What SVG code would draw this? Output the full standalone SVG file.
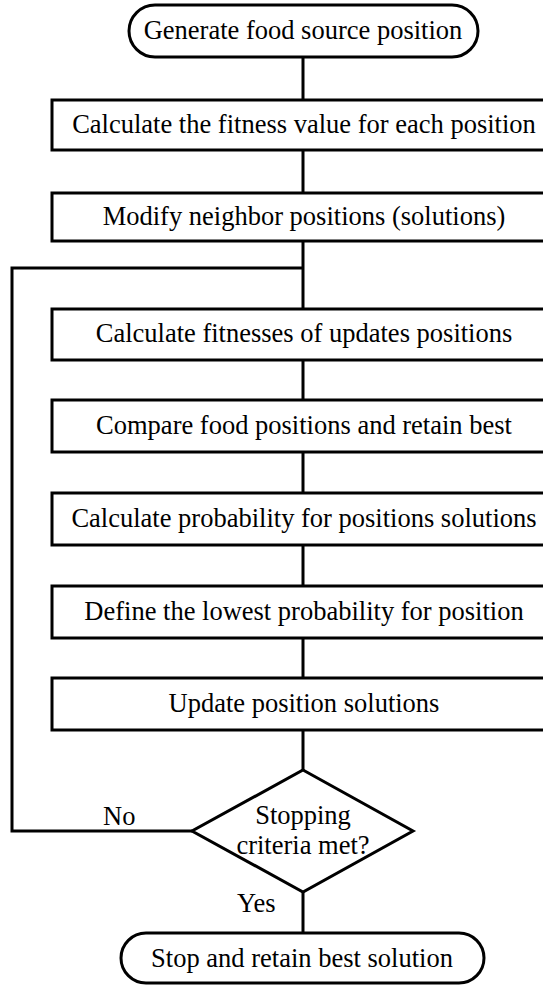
<svg xmlns="http://www.w3.org/2000/svg" width="543" height="985" viewBox="0 0 543 985">
<style>
.s{fill:#fff;stroke:#000;stroke-width:3}
.c{fill:none;stroke:#000;stroke-width:3}
.m{text-anchor:middle}
</style>
<rect width="543" height="985" fill="#fff"/>
<g id="connectors">
<path class="c" d="M303 57V100M303 150V193M303 241V309M303 360V400M303 452V493M303 545V586M303 638V678M303 730V770M303 892V933"/>
<path class="c" d="M192 831H12V268H303"/>
</g>
<g font-family="'Liberation Serif', 'Times New Roman', serif" font-size="26.5" fill="#000">
<g id="start"><rect class="s" x="129" y="5" width="349" height="52" rx="26"/><text class="m" x="303" y="39">Generate food source position</text></g>
<g id="n1"><rect class="s" x="52" y="100" width="500" height="50"/><text class="m" x="304" y="133">Calculate the fitness value for each position</text></g>
<g id="n2"><rect class="s" x="52" y="193" width="500" height="48"/><text class="m" x="304" y="225">Modify neighbor positions (solutions)</text></g>
<g id="n3"><rect class="s" x="52" y="309" width="500" height="51"/><text class="m" x="304" y="342">Calculate fitnesses of updates positions</text></g>
<g id="n4"><rect class="s" x="52" y="400" width="500" height="52"/><text class="m" x="304" y="434">Compare food positions and retain best</text></g>
<g id="n5"><rect class="s" x="52" y="493" width="500" height="52"/><text class="m" x="304" y="527">Calculate probability for positions solutions</text></g>
<g id="n6"><rect class="s" x="52" y="586" width="500" height="52"/><text class="m" x="304" y="620">Define the lowest probability for position</text></g>
<g id="n7"><rect class="s" x="52" y="678" width="500" height="52"/><text class="m" x="304" y="712">Update position solutions</text></g>
<g id="decision"><polygon class="s" points="303,770 413,831 303,892 192,831"/><text class="m" x="303" y="824">Stopping</text><text class="m" x="303" y="854">criteria met?</text></g>
<g id="labels"><text x="103" y="825">No</text><text x="237" y="912">Yes</text></g>
<g id="end"><rect class="s" x="121" y="933" width="363" height="50" rx="25"/><text class="m" x="302" y="967">Stop and retain best solution</text></g>
</g>
</svg>
